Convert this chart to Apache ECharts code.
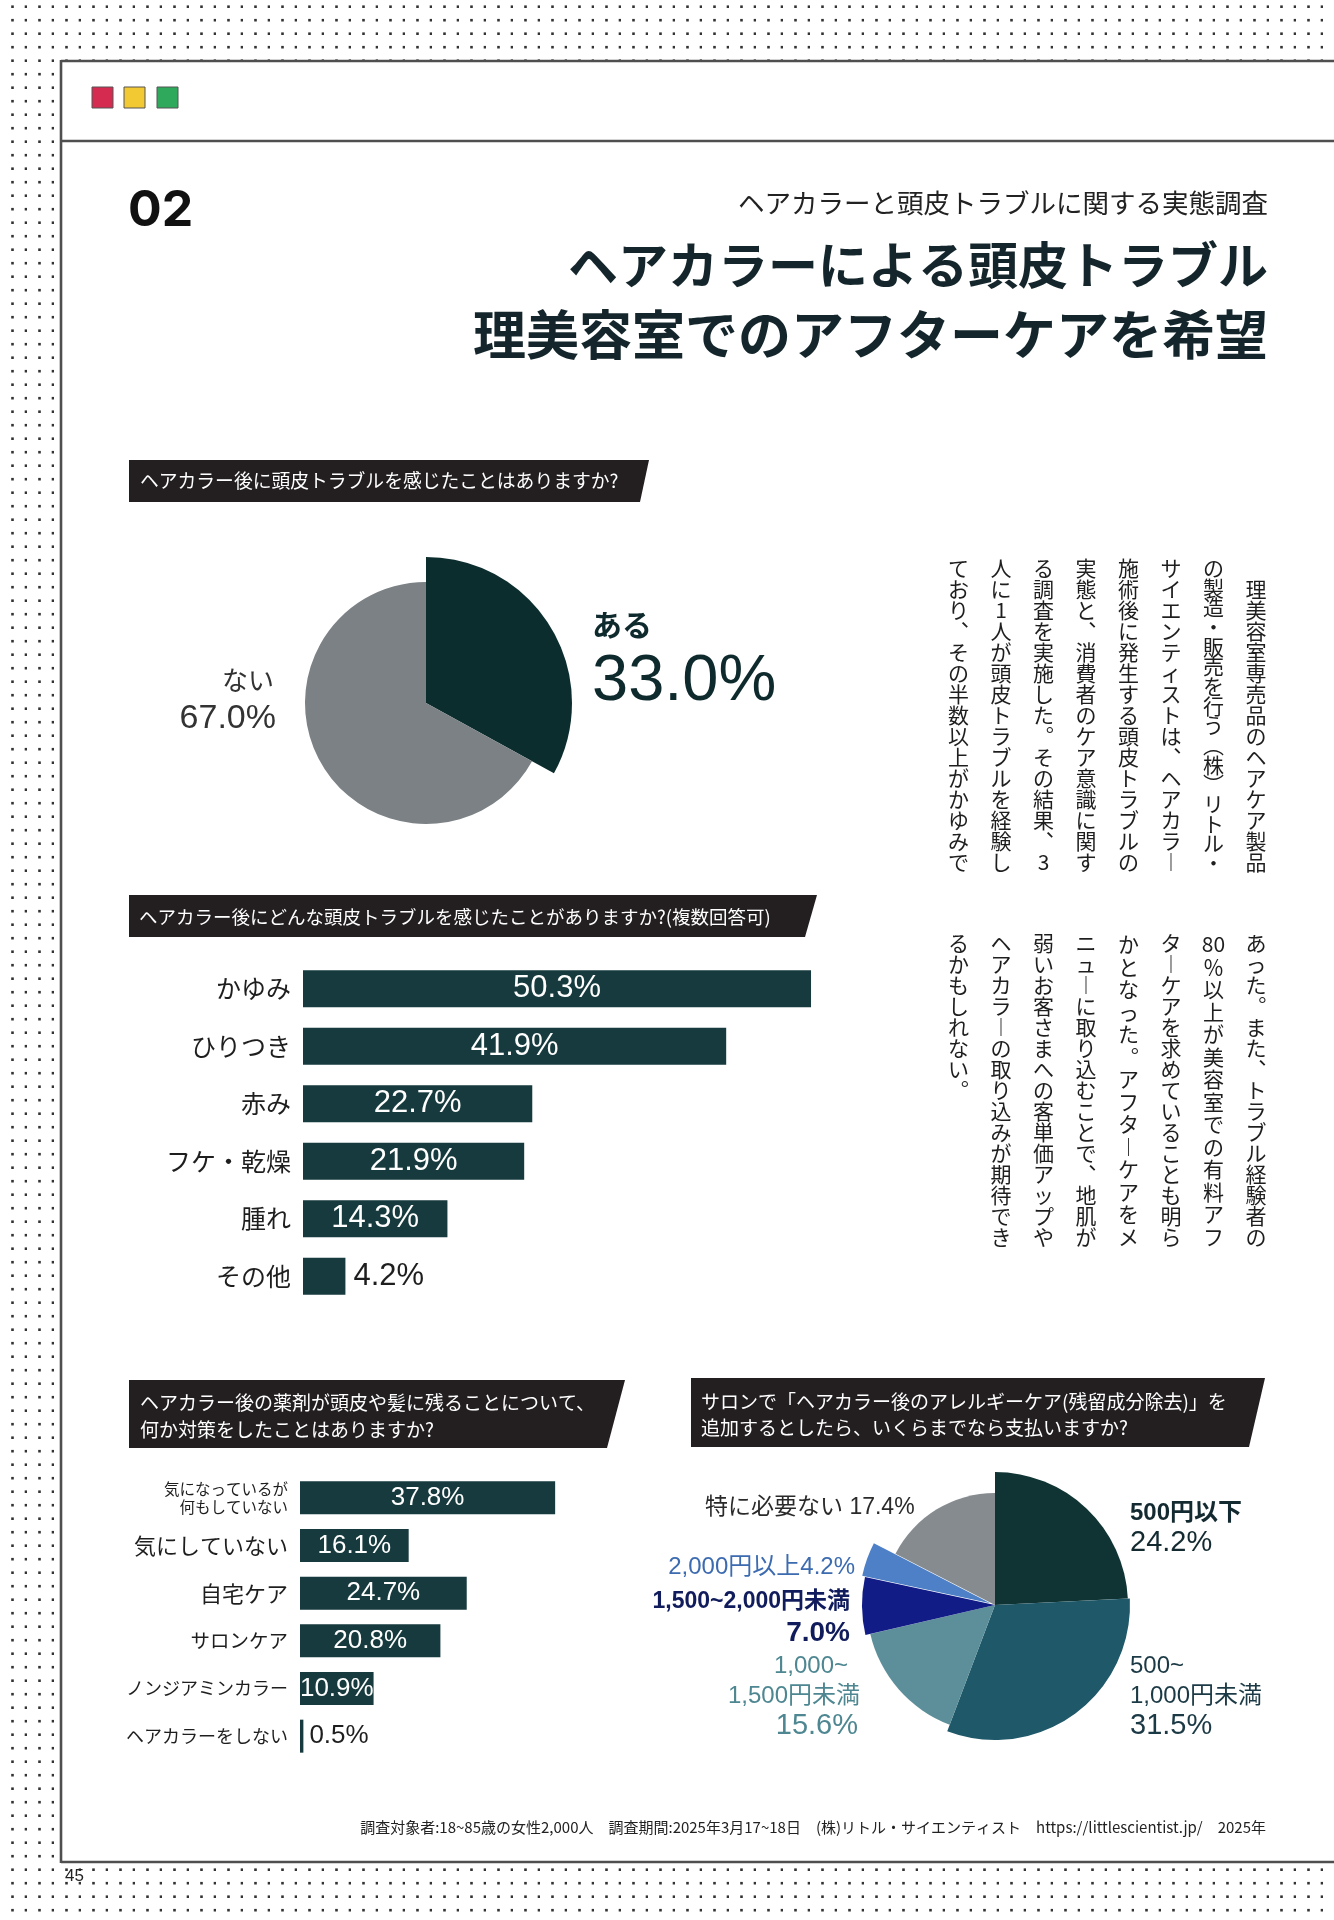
<!DOCTYPE html>
<html><head><meta charset="utf-8">
<script src="https://cdn.jsdelivr.net/npm/echarts@6/dist/echarts.min.js"></script>
<style>html,body{margin:0;padding:0;background:#fff}#c{width:1334px;height:1920px}</style>
</head><body><div id="c"></div>
<script>
// ---------- data ----------
const q1Names = ['ある', 'ない'];
const q1Values = [33.0, 67.0];

const q2Cats = ['かゆみ', 'ひりつき', '赤み', 'フケ・乾燥', '腫れ', 'その他'];
const q2Values = [50.3, 41.9, 22.7, 21.9, 14.3, 4.2];

const q3Cats = ['気になっているが\n何もしていない', '気にしていない', '自宅ケア', 'サロンケア', 'ノンジアミンカラー', 'ヘアカラーをしない'];
const q3Values = [37.8, 16.1, 24.7, 20.8, 10.9, 0.5];

const q4Names = ['500円以下', '500~1,000円未満', '1,000~1,500円未満', '1,500~2,000円未満', '2,000円以上', '特に必要ない'];
const q4Values = [24.2, 31.5, 15.6, 7.0, 4.2, 17.4];

const article1 = ['　理美容室専売品のヘアケア製品', 'の製造・販売を行う（株）リトル・', 'サイエンティストは、ヘアカラー', '施術後に発生する頭皮トラブルの', '実態と、消費者のケア意識に関す', 'る調査を実施した。その結果、3', '人に1人が頭皮トラブルを経験し', 'ており、その半数以上がかゆみで'];
const article2 = ['あった。また、トラブル経験者の', '80％以上が美容室での有料アフ', 'ターケアを求めていることも明ら', 'かとなった。アフターケアをメ', 'ニューに取り込むことで、地肌が', '弱いお客さまへの客単価アップや', 'ヘアカラーの取り込みが期待でき', 'るかもしれない。'];

// ---------- styles ----------
const JP = "'Noto Sans CJK JP','Noto Sans',sans-serif";
const NUM = "'Liberation Sans','Noto Sans CJK JP',sans-serif";
const INK = '#1e1e1e';
const BAR = '#163a3d';
const q1Colors = ['#0c2d2e', '#7b8184'];
const q1Radius = [146, 121];
const q4Colors = ['#0f3433', '#1f5868', '#5c8f9a', '#121c86', '#4d80c6', '#868b8f'];
const q4Radius = [133, 135, 128, 133, 131, 112];
const q3LabelSizes = [15.5, 22, 22, 19.5, 18, 18];

// ---------- background pattern ----------
const pc = document.createElement('canvas');
pc.width = 27; pc.height = 27;
const pctx = pc.getContext('2d');
pctx.fillStyle = '#333333';
[[11.2, 5.4], [24.7, 5.4], [11.2, 18.9], [24.7, 18.9]].forEach(p => pctx.fillRect(p[0], p[1], 2.6, 2.6));

// ---------- vertical text helper ----------
const vmap = { 'ー': '︱', '、': '︑', '。': '︒', '（': '︵', '）': '︶' };
function vcells(s) {
  const cells = [];
  let i = 0;
  while (i < s.length) {
    if (/[0-9]/.test(s[i]) && /[0-9]/.test(s[i + 1] || '')) { cells.push(s[i] + s[i + 1]); i += 2; continue; }
    cells.push(vmap[s[i]] || s[i]); i++;
  }
  return cells;
}
const g = [];
g.push({ type: 'rect', z: -100, silent: true, shape: { x: 0, y: 0, width: 1334, height: 1920 }, style: { fill: { image: pc, repeat: 'repeat' } } });
g.push({ type: 'rect', z: -90, silent: true, shape: { x: 61, y: 61, width: 1280, height: 1801 }, style: { fill: '#ffffff' } });
const lineSt = { stroke: '#4f4f4f', lineWidth: 2.6 };
g.push({ type: 'line', z: -80, silent: true, shape: { x1: 61, y1: 61, x2: 1334, y2: 61 }, style: lineSt });
g.push({ type: 'line', z: -80, silent: true, shape: { x1: 61, y1: 141, x2: 1334, y2: 141 }, style: lineSt });
g.push({ type: 'line', z: -80, silent: true, shape: { x1: 61, y1: 1862, x2: 1334, y2: 1862 }, style: lineSt });
g.push({ type: 'line', z: -80, silent: true, shape: { x1: 61, y1: 60, x2: 61, y2: 1863 }, style: lineSt });
// colour squares
[['#d62b50', 92], ['#f2c833', 124], ['#2faa5c', 157]].forEach(s => {
  g.push({ type: 'rect', z: 5, silent: true, shape: { x: s[1], y: 87, width: 21, height: 21 }, style: { fill: s[0], stroke: '#555', lineWidth: 1 } });
});
function txt(x, y, text, o) {
  g.push({ type: 'text', z: 20, silent: true, x: x, y: y, style: Object.assign({ text: text, fontFamily: JP, fontSize: 20, fill: INK, align: 'left', verticalAlign: 'middle' }, o || {}) });
}
// heading
txt(128, 211, '02', { fontFamily: "'Inter','Liberation Sans',sans-serif", fontWeight: 700, fontSize: 50, fill: '#111' });
txt(1268, 203, 'ヘアカラーと頭皮トラブルに関する実態調査', { align: 'right', fontSize: 26.5, fill: '#222' });
txt(1268, 265, 'ヘアカラーによる頭皮トラブル', { align: 'right', fontSize: 50, fontWeight: 700, fill: '#14262b' });
txt(1268, 335, '理美容室でのアフターケアを希望', { align: 'right', fontSize: 53, fontWeight: 700, fill: '#14262b' });

// question header boxes
function qbox(pts, x, y, text, fs, lh) {
  g.push({ type: 'polygon', z: 5, silent: true, shape: { points: pts }, style: { fill: '#231f20' } });
  txt(x, y, text, { fill: '#fff', fontSize: fs, lineHeight: lh || 24 });
}
qbox([[129, 460], [649, 460], [640, 502], [129, 502]], 140, 481, 'ヘアカラー後に頭皮トラブルを感じたことはありますか?', 18.8);
qbox([[129, 895], [817, 895], [805, 937], [129, 937]], 139, 917, 'ヘアカラー後にどんな頭皮トラブルを感じたことがありますか?(複数回答可)', 18.5);
qbox([[129, 1380], [625, 1380], [607, 1448], [129, 1448]], 140, 1416, 'ヘアカラー後の薬剤が頭皮や髪に残ることについて、\n何か対策をしたことはありますか?', 19, 27);
qbox([[691, 1378], [1265, 1378], [1249, 1447], [691, 1447]], 701, 1415, 'サロンで「ヘアカラー後のアレルギーケア(残留成分除去)」を\n追加するとしたら、いくらまでなら支払いますか?', 19, 26);

// article (vertical)
function column(lines, top, full) {
  lines.forEach((s, i) => {
    const cells = vcells(s);
    const isLast = (i === lines.length - 1) && cells.length < 12;
    const lh = isLast ? 21 : full / cells.length;
    g.push({ type: 'text', z: 20, silent: true, x: 1256 - 42.5 * i, y: top, style: { text: cells.join('\n'), fontFamily: JP, fontSize: 21, lineHeight: lh, fill: INK, align: 'center', verticalAlign: 'top' } });
  });
}
column(article1, 558, 315);
column(article2, 933, 315);

// pie1 labels
const fmt = v => v.toFixed(1) + '%';
txt(274, 680, q1Names[1], { align: 'right', fontSize: 26, fill: '#333' });
txt(276, 719, fmt(q1Values[1]), { align: 'right', fontFamily: NUM, fontSize: 34, fill: '#333' });
txt(592, 625, q1Names[0], { fontSize: 30, fontWeight: 700, fill: '#0f2a2d' });
txt(592, 682, fmt(q1Values[0]), { fontFamily: NUM, fontSize: 65, fill: '#0f2a2d' });

// pie2 labels
const q4Ink = ['#132a30', '#1c3a45', '#4e8791', '#101c5c', '#3d6bb0', '#2a2a2a'];
txt(705, 1508, q4Names[5] + ' ' + fmt(q4Values[5]), { fontFamily: NUM, fontSize: 23, fill: q4Ink[5] });
txt(1130, 1513, q4Names[0], { fontFamily: NUM, fontSize: 24, fontWeight: 700, fill: q4Ink[0] });
txt(1130, 1543, fmt(q4Values[0]), { fontFamily: NUM, fontSize: 29, fill: q4Ink[0] });
(function () {
  const p = q4Names[1].split('~');
  txt(1130, 1666, p[0] + '~', { fontFamily: NUM, fontSize: 24, fill: q4Ink[1] });
  txt(1130, 1696, p[1], { fontFamily: NUM, fontSize: 24, fill: q4Ink[1] });
  txt(1130, 1726, fmt(q4Values[1]), { fontFamily: NUM, fontSize: 29, fill: q4Ink[1] });
  const r = q4Names[2].split('~');
  txt(848, 1666, r[0] + '~', { align: 'right', fontFamily: NUM, fontSize: 24, fill: q4Ink[2] });
  txt(860, 1696, r[1], { align: 'right', fontFamily: NUM, fontSize: 24, fill: q4Ink[2] });
  txt(858, 1726, fmt(q4Values[2]), { align: 'right', fontFamily: NUM, fontSize: 29, fill: q4Ink[2] });
})();
txt(850, 1602, q4Names[3], { align: 'right', fontFamily: NUM, fontSize: 23, fontWeight: 700, fill: q4Ink[3] });
txt(850, 1633, fmt(q4Values[3]), { align: 'right', fontFamily: NUM, fontSize: 28, fontWeight: 700, fill: q4Ink[3] });
txt(855, 1567, q4Names[4] + fmt(q4Values[4]), { align: 'right', fontFamily: NUM, fontSize: 24, fill: q4Ink[4] });

// footer
txt(1266, 1827, '調査対象者:18~85歳の女性2,000人　調査期間:2025年3月17~18日　(株)リトル・サイエンティスト　https://littlescientist.jp/　2025年', { align: 'right', fontSize: 15, fill: '#222' });
txt(65, 1876, '45', { fontFamily: NUM, fontSize: 17, fill: '#222' });

// ---------- series ----------
const series = [];
q1Values.forEach((_, k) => {
  series.push({
    type: 'pie', center: [426, 703], radius: [0, q1Radius[k]], startAngle: 90, clockwise: true,
    silent: true, label: { show: false }, labelLine: { show: false }, emphasis: { disabled: true },
    data: q1Values.map((v, i) => ({ value: v, name: q1Names[i], itemStyle: { color: i === k ? q1Colors[i] : 'rgba(0,0,0,0)', borderWidth: 0 } }))
  });
});
q4Values.forEach((_, k) => {
  series.push({
    type: 'pie', center: [995, 1605], radius: [0, q4Radius[k]], startAngle: 90, clockwise: true,
    silent: true, label: { show: false }, labelLine: { show: false }, emphasis: { disabled: true },
    selectedMode: k === 4 ? 'single' : false, selectedOffset: 5,
    data: q4Values.map((v, i) => ({ value: v, name: q4Names[i], selected: (k === 4 && i === 4), itemStyle: { color: i === k ? q4Colors[i] : 'rgba(0,0,0,0)', borderWidth: 0 } }))
  });
});
series.push({
  type: 'bar', xAxisIndex: 0, yAxisIndex: 0, barWidth: 37, silent: true,
  itemStyle: { color: BAR },
  label: { show: true, position: 'inside', color: '#fff', fontFamily: NUM, fontSize: 31, formatter: p => fmt(p.value) },
  data: q2Values.map(v => v < 10 ? { value: v, label: { position: 'right', distance: 8, color: INK } } : v)
});
series.push({
  type: 'bar', xAxisIndex: 1, yAxisIndex: 1, barWidth: 33, silent: true,
  itemStyle: { color: BAR },
  label: { show: true, position: 'inside', color: '#fff', fontFamily: NUM, fontSize: 26, formatter: p => fmt(p.value) },
  data: q3Values.map(v => v < 5 ? { value: v, label: { position: 'right', distance: 6, color: INK } } : v)
});

const rich3 = {};
q3LabelSizes.forEach((s, i) => { rich3['s' + i] = { fontSize: s, lineHeight: s + 2.5, fontFamily: JP, color: INK, align: 'right' }; });

const option = {
  animation: false,
  textStyle: { fontFamily: NUM },
  grid: [
    { left: 303, top: 960, width: 606, height: 345 },
    { left: 300, top: 1474, width: 405, height: 286 }
  ],
  xAxis: [
    { gridIndex: 0, type: 'value', min: 0, max: 60, show: false },
    { gridIndex: 1, type: 'value', min: 0, max: 60, show: false }
  ],
  yAxis: [
    { gridIndex: 0, type: 'category', inverse: true, data: q2Cats, axisLine: { show: false }, axisTick: { show: false },
      axisLabel: { fontFamily: JP, fontSize: 25, color: INK, margin: 12 } },
    { gridIndex: 1, type: 'category', inverse: true, data: q3Cats, axisLine: { show: false }, axisTick: { show: false },
      axisLabel: { margin: 12, rich: rich3, formatter: (v, i) => v.split('\n').map(l => '{s' + i + '|' + l + '}').join('\n') } }
  ],
  graphic: { elements: g },
  series: series
};
const chart = echarts.init(document.getElementById('c'), null, { renderer: 'canvas', width: 1334, height: 1920 });
chart.setOption(option);
</script></body></html>
